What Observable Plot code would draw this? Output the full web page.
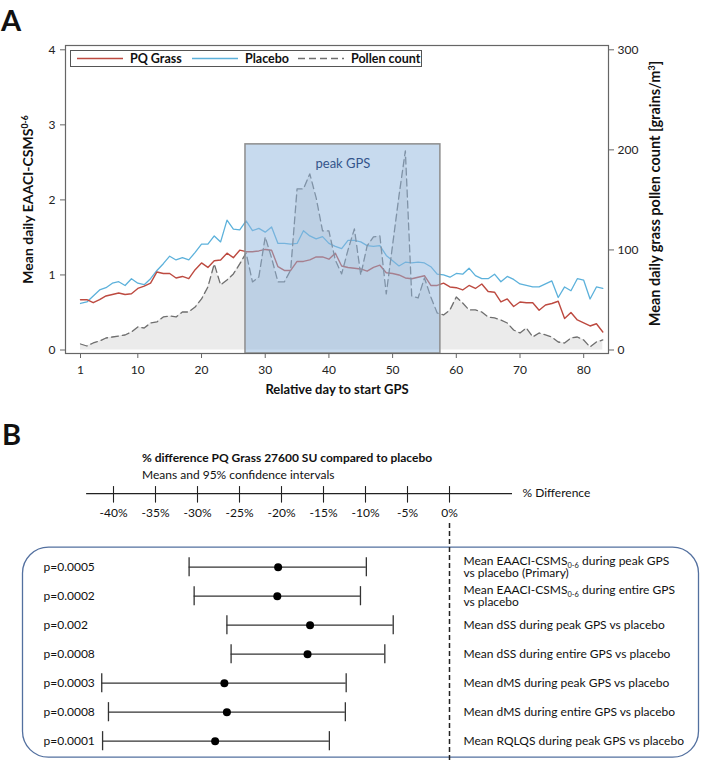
<!DOCTYPE html>
<html>
<head>
<meta charset="utf-8">
<script src="https://cdn.jsdelivr.net/npm/d3@7"></script>
<script src="https://cdn.jsdelivr.net/npm/@observablehq/plot@0.6"></script>
<style>
  body { margin: 0; background: white; }
  #wrap { position: relative; width: 709px; height: 760px; font-family: Lato, "Open Sans", sans-serif; color: #111; overflow: hidden; }
  #wrap svg.plot { position: absolute; left: 0; }
  .panel { position: absolute; font-size: 29px; font-weight: bold; line-height: 29px; }
  .hdr { position: absolute; left: 142px; font-size: 12px; white-space: nowrap; }
  #legend { position: absolute; left: 70px; top: 50px; width: 350px; height: 15px; border: 1px solid #555; background: white; }
</style>
</head>
<body>
<div id="wrap">
  <div class="panel" style="left:1px; top:5px;">A</div>
  <div class="panel" style="left:2px; top:419px;">B</div>
  <div class="hdr" style="top:450px; font-weight:bold;">% difference PQ Grass 27600 SU compared to placebo</div>
  <div class="hdr" style="top:467px;">Means and 95% confidence intervals</div>
</div>
<script>
// ---------- Panel A data ----------
const days = Array.from({length: 83}, (_, i) => i + 1);
const pqGrass = [0.67,0.67,0.63,0.67,0.72,0.74,0.76,0.74,0.75,0.82,0.85,0.89,1.04,1.02,1.02,0.96,0.98,0.95,1.07,1.16,
  1.10,1.19,1.20,1.29,1.23,1.33,1.31,1.31,1.32,1.34,1.33,1.11,1.06,1.06,1.18,1.18,1.20,1.24,1.24,1.21,
  1.29,1.12,1.10,1.09,1.08,1.05,1.10,1.13,1.03,1.02,1.00,0.96,0.95,0.97,0.99,0.86,0.86,0.89,0.84,0.83,
  0.80,0.86,0.82,0.88,0.78,0.77,0.64,0.68,0.58,0.64,0.63,0.63,0.53,0.60,0.62,0.65,0.42,0.50,0.40,0.36,
  0.32,0.35,0.24];
const placebo = [0.62,0.64,0.72,0.80,0.83,0.89,0.91,0.86,0.95,0.89,0.87,0.95,1.06,1.15,1.25,1.20,1.23,1.20,1.30,1.41,
  1.41,1.52,1.44,1.73,1.61,1.60,1.72,1.59,1.62,1.57,1.64,1.42,1.42,1.41,1.42,1.59,1.52,1.48,1.51,1.42,
  1.38,1.35,1.46,1.46,1.44,1.39,1.38,1.39,1.26,1.19,1.12,1.17,1.16,1.17,1.16,1.11,1.01,1.00,0.97,1.02,
  1.01,1.09,0.99,0.95,0.95,1.01,0.91,0.98,0.94,0.88,0.86,0.84,0.84,0.88,0.92,0.70,0.84,0.79,0.95,0.93,
  0.68,0.84,0.82];
const pollen = [6,4,7,9,12,13,14,15,18,23,22,27,28,33,34,33,38,38,43,51,
  63,86,65,70,76,86,97,68,73,113,92,68,68,80,161,161,176,152,119,119,
  90,76,100,121,75,104,113,114,56,105,154,199,54,52,72,53,37,35,40,53,
  47,40,40,38,33,32,30,27,20,17,22,13,17,15,13,8,7,12,13,10,
  3,8,10];
const peakGPS = [{start: 26.9, end: 57.5, top: 2.74, bottom: -0.047, label: "peak GPS"}];
const dayTicks = [1,10,20,30,40,50,60,70,80];
const scoreTicks = [0,1,2,3,4];
const pollenTicks = [0,100,200,300];
const pollenPerUnit = 75; // right axis 300 <-> left axis 4

const seriesA = days.map((d, i) => ({day: d, pq: pqGrass[i], pl: placebo[i], pollen: pollen[i]}));

// ---------- Panel B data ----------
const pLabels = ["p=0.0005","p=0.0002","p=0.002","p=0.0008","p=0.0003","p=0.0008","p=0.0001"];
const estimates = [-20.4,-20.5,-16.6,-16.9,-26.8,-26.5,-27.9];
const lower = [-31.0,-30.4,-26.5,-26.0,-41.4,-40.6,-41.3];
const upper = [-9.9,-10.6,-6.7,-7.7,-12.3,-12.4,-14.3];
const outcomes = [
  "Mean EAACI-CSMS_{0-6} during peak GPS\nvs placebo (Primary)",
  "Mean EAACI-CSMS_{0-6} during entire GPS\nvs placebo",
  "Mean dSS during peak GPS vs placebo",
  "Mean dSS during entire GPS vs placebo",
  "Mean dMS during peak GPS vs placebo",
  "Mean dMS during entire GPS vs placebo",
  "Mean RQLQS during peak GPS vs placebo"
];
const pctTicks = [-40,-35,-30,-25,-20,-15,-10,-5,0];
const rowsB = pLabels.map((p, i) => ({row: i, p, est: estimates[i], lo: lower[i], hi: upper[i], label: outcomes[i]}));

const FONT = "Lato, 'Open Sans', sans-serif";
const red = "#bd4a40", blue = "#5cb1db", grey = "#6f6f6f";

// super/subscript post-processing: ^{..} and _{..}
function scripts(root) {
  const walker = document.createTreeWalker(root, NodeFilter.SHOW_TEXT);
  const nodes = [];
  while (walker.nextNode()) nodes.push(walker.currentNode);
  const ns = "http://www.w3.org/2000/svg";
  for (const node of nodes) {
    const s = node.nodeValue;
    const m = s.match(/([_^])\{([^}]*)\}/);
    if (!m) continue;
    const parent = node.parentNode;
    const shift = m[1] === "^" ? -5 : 2.5;
    const before = document.createTextNode(s.slice(0, m.index));
    const t = document.createElementNS(ns, "tspan");
    t.setAttribute("dy", shift);
    t.setAttribute("font-size", "0.62em");
    t.textContent = m[2];
    const after = document.createElementNS(ns, "tspan");
    after.setAttribute("dy", -shift);
    after.textContent = s.slice(m.index + m[0].length);
    parent.replaceChild(after, node);
    parent.insertBefore(t, after);
    parent.insertBefore(before, t);
  }
}

// ---------- Panel A ----------
const chartA = Plot.plot({
  width: 709, height: 410,
  marginLeft: 65, marginRight: 101, marginTop: 45, marginBottom: 57,
  x: {domain: [1, 80], range: [80, 583.2], axis: null},
  y: {domain: [0, 4], range: [349.5, 49.3], axis: null},
  style: {fontFamily: FONT, fontSize: "12px", color: "#222", background: "transparent", overflow: "visible"},
  marks: [
    Plot.areaY(seriesA, {x: "day", y: d => d.pollen / pollenPerUnit, fill: "#ebebeb"}),
    Plot.lineY(seriesA, {x: "day", y: "pl", stroke: blue, strokeWidth: 1.3}),
    Plot.lineY(seriesA, {x: "day", y: "pq", stroke: red, strokeWidth: 1.4}),
    Plot.lineY(seriesA, {x: "day", y: d => d.pollen / pollenPerUnit, stroke: grey, strokeWidth: 1.3, strokeDasharray: "7,4"}),
    Plot.rect(peakGPS, {x1: "start", x2: "end", y1: "bottom", y2: "top", fill: "#8fb6de", fillOpacity: 0.5, stroke: "#8d8d8d", strokeWidth: 1.5}),
    Plot.text(peakGPS, {x: d => (d.start + d.end) / 2, y: "top", dy: 19, text: "label", fill: "#34558b", fontSize: 13}),
    Plot.frame({stroke: "#666", strokeWidth: 1.2}),
    Plot.axisY({ticks: scoreTicks, tickSize: 5, tickPadding: 5, label: null, tickFormat: d => d, stroke: "#666"}),
    Plot.axisY({anchor: "right", ticks: pollenTicks.map(v => v / pollenPerUnit), tickSize: 5, tickPadding: 4, label: null, tickFormat: v => Math.round(v * pollenPerUnit), stroke: "#666"}),
    Plot.axisX({ticks: dayTicks, tickSize: 5, tickPadding: 7, label: null, tickFormat: d => d, stroke: "#666"}),
    Plot.text(["Relative day to start GPS"], {frameAnchor: "bottom", dy: 40, fontWeight: "bold", fontSize: 13, fill: "#111"}),
    Plot.text(["Mean daily EAACI-CSMS^{0-6}"], {frameAnchor: "left", textAnchor: "middle", rotate: -90, dx: -37, dy: 0, fontWeight: "bold", fontSize: 14, fill: "#111"}),
    Plot.text(["Mean daily grass pollen count [grains/m^{3}]"], {frameAnchor: "right", textAnchor: "middle", rotate: -90, dx: 47, dy: -6, fontWeight: "bold", fontSize: 14.5, fill: "#111"})
  ]
});
chartA.classList.add("plot");
chartA.style.top = "0px";
scripts(chartA);

// ---------- Panel B ----------
const AXIS_ROW = -2.54;
const chartB = Plot.plot({
  width: 709, height: 350,
  marginLeft: 22, marginRight: 11, marginTop: 136.7, marginBottom: 3.3,
  x: {domain: [-40, 0], range: [113, 449], axis: null},
  y: {domain: [0, 6], range: [156.7, 330.7], axis: null},
  style: {fontFamily: FONT, fontSize: "12px", color: "#111", background: "transparent", overflow: "visible"},
  marks: [
    Plot.frame({rx: 26, ry: 26, stroke: "#53709f", strokeWidth: 1.3}),
    // axis
    Plot.ruleY([AXIS_ROW], {x1: -43.2, x2: 7.5, stroke: "#222", strokeWidth: 1.2}),
    Plot.ruleX(pctTicks, {x: d => d, y1: AXIS_ROW - 0.24, y2: AXIS_ROW + 0.33, stroke: "#222", strokeWidth: 1.1}),
    Plot.text(pctTicks, {x: d => d, y: AXIS_ROW + 0.69, text: d => d + "%", fontSize: 12, fill: "#111"}),
    Plot.text(["% Difference"], {x: 7.5, dx: 10, y: AXIS_ROW, textAnchor: "start", fontSize: 12, fill: "#111"}),
    // zero reference
    Plot.ruleX([0], {y1: -1.51, y2: 6.7, stroke: "#222", strokeWidth: 1.5, strokeDasharray: "5,3"}),
    // CIs
    Plot.ruleY(rowsB, {y: "row", x1: "lo", x2: "hi", stroke: "#333", strokeWidth: 1.3}),
    Plot.ruleX(rowsB, {x: "lo", y1: d => d.row - 0.33, y2: d => d.row + 0.33, stroke: "#333", strokeWidth: 1.3}),
    Plot.ruleX(rowsB, {x: "hi", y1: d => d.row - 0.33, y2: d => d.row + 0.33, stroke: "#333", strokeWidth: 1.3}),
    Plot.dot(rowsB, {x: "est", y: "row", r: 4, fill: "#000", stroke: "none"}),
    Plot.text(rowsB, {frameAnchor: "left", dx: 21, y: "row", text: "p", textAnchor: "start", fontSize: 12, fill: "#111"}),
    Plot.text(rowsB, {x: 0, dx: 14, y: "row", text: "label", textAnchor: "start", fontSize: 12, lineHeight: 1.0, fill: "#111"})
  ]
});
chartB.classList.add("plot");
chartB.style.top = "410px";
scripts(chartB);

const wrap = document.getElementById("wrap");
wrap.prepend(chartB);
wrap.prepend(chartA);

// ---------- Legend (overlay inside panel A frame) ----------
const legendItems = [
  {name: "PQ Grass", color: red, dash: null, x: 6, tx: 59},
  {name: "Placebo", color: blue, dash: null, x: 121, tx: 174},
  {name: "Pollen count", color: grey, dash: "7,4", x: 227, tx: 280}
];
const lg = document.createElement("div");
lg.id = "legend";
lg.innerHTML = `<svg width="350" height="15" style="display:block">` +
  legendItems.map(it => `<line x1="${it.x}" x2="${it.x + 46}" y1="7.5" y2="7.5" stroke="${it.color}" stroke-width="1.3" ${it.dash ? `stroke-dasharray="${it.dash}"` : ""}/>` +
    `<text x="${it.tx}" y="12" font-family="${FONT.replace(/'/g, "")}" font-size="12.5" font-weight="bold" fill="#111">${it.name}</text>`).join("") +
  `</svg>`;
wrap.appendChild(lg);
</script>
</body>
</html>
